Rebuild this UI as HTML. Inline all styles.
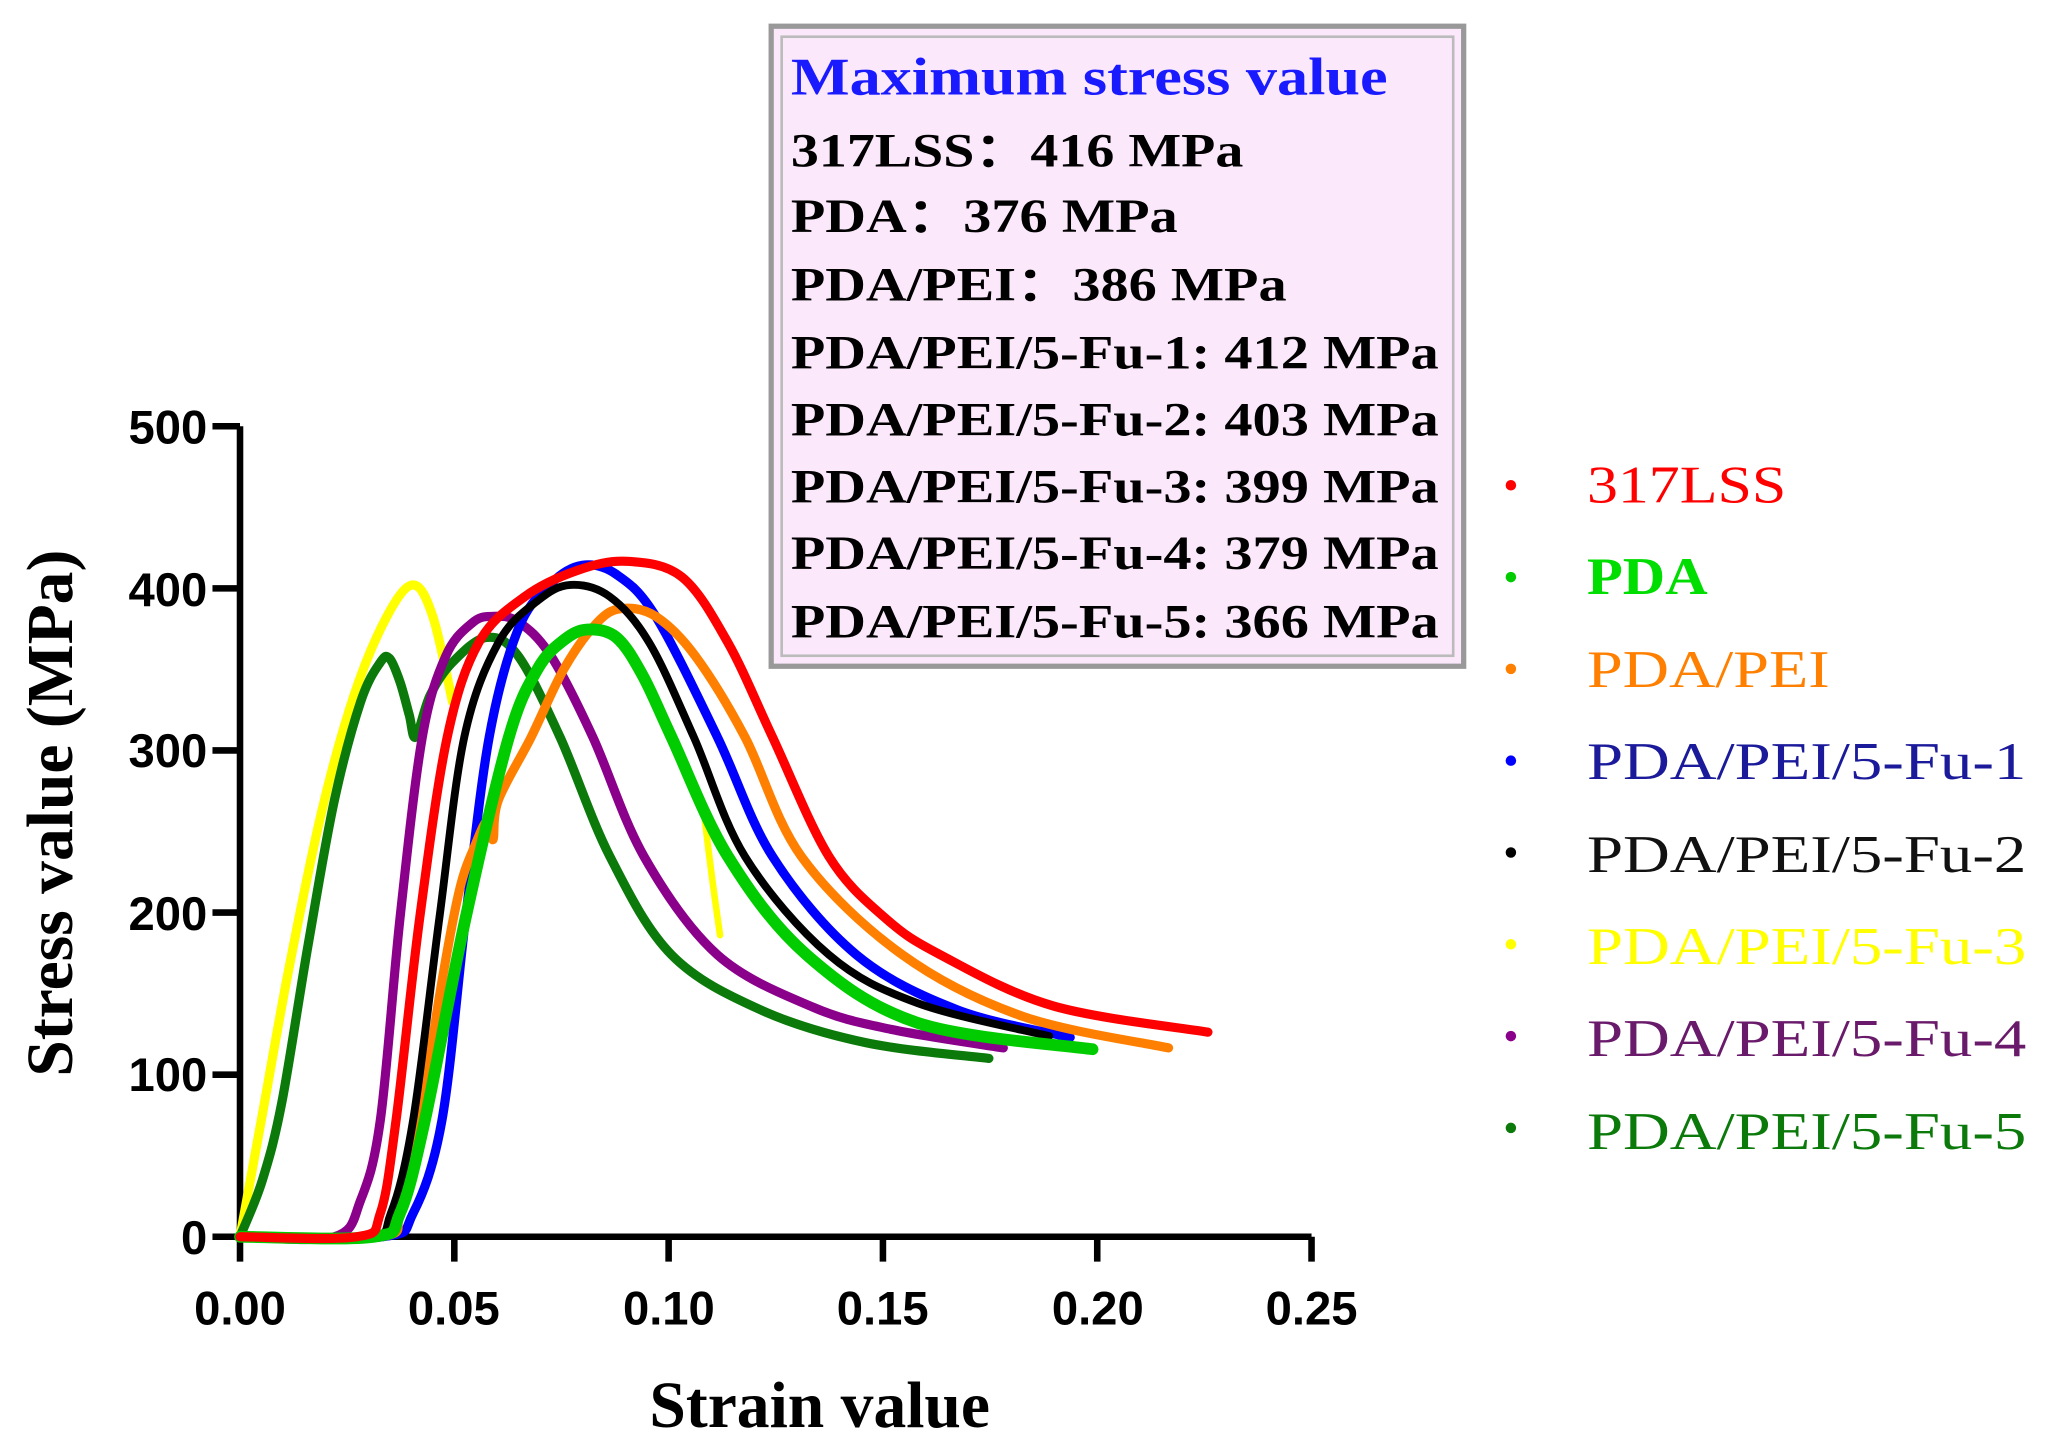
<!DOCTYPE html>
<html><head><meta charset="utf-8"><style>
html,body{margin:0;padding:0;background:#fff;}
svg{display:block;}
</style></head><body>
<svg id="s" width="2046" height="1439" viewBox="0 0 1560 1097.2" preserveAspectRatio="none" xmlns="http://www.w3.org/2000/svg">
<rect width="1560" height="1097.2" fill="#fff"/>
<rect x="588" y="20" width="528" height="488" fill="#fbe9fb" stroke="#999" stroke-width="4"/>
<rect x="596" y="28" width="512" height="472" fill="none" stroke="#bbb" stroke-width="2"/>
<g font-family="Liberation Serif, serif" font-weight="bold">
<text x="603" y="72" font-size="40" fill="#1a1aff" textLength="455" lengthAdjust="spacingAndGlyphs">Maximum stress value</text>
<g font-size="36" fill="#000">
<text x="603" y="127" textLength="345" lengthAdjust="spacingAndGlyphs">317LSS：416 MPa</text>
<text x="603" y="177" textLength="295" lengthAdjust="spacingAndGlyphs">PDA：376 MPa</text>
<text x="603" y="229" textLength="378" lengthAdjust="spacingAndGlyphs">PDA/PEI：386 MPa</text>
<text x="603" y="281" textLength="494" lengthAdjust="spacingAndGlyphs">PDA/PEI/5-Fu-1: 412 MPa</text>
<text x="603" y="332" textLength="494" lengthAdjust="spacingAndGlyphs">PDA/PEI/5-Fu-2: 403 MPa</text>
<text x="603" y="383" textLength="494" lengthAdjust="spacingAndGlyphs">PDA/PEI/5-Fu-3: 399 MPa</text>
<text x="603" y="434" textLength="494" lengthAdjust="spacingAndGlyphs">PDA/PEI/5-Fu-4: 379 MPa</text>
<text x="603" y="486" textLength="494" lengthAdjust="spacingAndGlyphs">PDA/PEI/5-Fu-5: 366 MPa</text>
</g></g>
<g stroke="#000" stroke-width="5" fill="none">
<path d="M183,325 V943 H1000"/>
<path d="M162,325 H183 M162,448.6 H183 M162,572.2 H183 M162,695.8 H183 M162,819.4 H183 M162,943 H183"/>
<path d="M183,943 V962 M346.4,943 V962 M509.8,943 V962 M673.2,943 V962 M836.6,943 V962 M1000,943 V962"/>
</g>
<g font-family="Liberation Sans, sans-serif" font-weight="bold" font-size="36" fill="#000" text-anchor="end">
<text x="158" y="338">500</text><text x="158" y="462">400</text><text x="158" y="585">300</text>
<text x="158" y="709">200</text><text x="158" y="832">100</text><text x="158" y="956">0</text>
</g>
<g font-family="Liberation Sans, sans-serif" font-weight="bold" font-size="36" fill="#000" text-anchor="middle">
<text x="183" y="1010">0.00</text><text x="346" y="1010">0.05</text><text x="510" y="1010">0.10</text>
<text x="673" y="1010">0.15</text><text x="837" y="1010">0.20</text><text x="1000" y="1010">0.25</text>
</g>
<text x="625" y="1088" font-family="Liberation Serif, serif" font-weight="bold" font-size="50" text-anchor="middle">Strain value</text>
<text transform="translate(55,620) rotate(-90)" font-family="Liberation Serif, serif" font-weight="bold" font-size="50" text-anchor="middle">Stress value (MPa)</text>
<g id="curves" fill="none" stroke-width="7" stroke-linejoin="round" stroke-linecap="round"></g>
<g font-family="Liberation Serif, serif" font-size="40">
<circle cx="1152" cy="370" r="4" fill="#ff0000"/><text x="1210" y="383" fill="#ff0000" textLength="152" lengthAdjust="spacingAndGlyphs">317LSS</text>
<circle cx="1152" cy="440" r="4" fill="#00cc00"/><text x="1210" y="453" fill="#00dd00" font-weight="bold" textLength="92" lengthAdjust="spacingAndGlyphs">PDA</text>
<circle cx="1152" cy="510" r="4" fill="#ff8000"/><text x="1210" y="524" fill="#ff8000" textLength="185" lengthAdjust="spacingAndGlyphs">PDA/PEI</text>
<circle cx="1152" cy="580" r="4" fill="#0000ff"/><text x="1210" y="594" fill="#1a1a9a" textLength="335" lengthAdjust="spacingAndGlyphs">PDA/PEI/5-Fu-1</text>
<circle cx="1152" cy="650" r="4" fill="#000"/><text x="1210" y="665" fill="#111" textLength="335" lengthAdjust="spacingAndGlyphs">PDA/PEI/5-Fu-2</text>
<circle cx="1152" cy="720" r="4" fill="#ffff00"/><text x="1210" y="735" fill="#ffff00" textLength="335" lengthAdjust="spacingAndGlyphs">PDA/PEI/5-Fu-3</text>
<circle cx="1152" cy="790" r="4" fill="#8b008b"/><text x="1210" y="805" fill="#6a1a6a" textLength="335" lengthAdjust="spacingAndGlyphs">PDA/PEI/5-Fu-4</text>
<circle cx="1152" cy="860" r="4" fill="#0b7a0b"/><text x="1210" y="876" fill="#0b7a0b" textLength="335" lengthAdjust="spacingAndGlyphs">PDA/PEI/5-Fu-5</text>
</g>
</svg>
<script>
var S=[
["#ffff00",7,[183,943,200,850,220,740,245,620,270,530,295,470,315,446,330,470,345,535]],
["#ffff00",5,[537,622,543,670,549,713]],
["#0b7a0b",7,[183,943,200,900,215,840,235,720,255,610,275,535,290,505,297,502,305,520,312,545,317,562,328,530,345,505,371,486,395,500,427,562,465,653,512,728,580,770,660,795,754,807]],
["#8b008b",7,[183,943,255,943,275,915,290,854,305,700,322,562,340,500,360,475,375,470,395,474,420,500,452,562,491,653,547,728,620,768,680,785,765,799]],
["#0000ff",7,[183,943,292,943,315,925,337,854,355,700,373,562,395,480,420,445,444,431,470,438,500,470,547,562,589,653,653,728,730,770,816,791]],
["#ff8000",7,[183,943,290,943,305,925,318,870,335,760,350,680,362,645,372,625,376,640,380,610,405,562,430,510,455,475,474,464,500,470,530,500,568,562,611,653,688,728,780,775,891,799]],
["#000000",6,[183,943,280,943,298,925,315,854,335,700,354,562,380,490,410,458,435,446,465,455,495,490,529,562,568,653,632,728,700,765,800,790]],
["#00cc00",9,[183,943,285,943,305,925,324,854,355,700,388,562,410,510,430,488,448,480,470,486,490,515,512,562,555,653,615,728,700,780,833,800]],
["#ff0000",7,[183,943,272,943,290,925,302,854,320,700,341,562,365,490,400,455,440,435,478,428,520,440,555,490,589,562,632,653,675,700,717,728,803,767,921,787]]
];
var g=document.getElementById('curves');
S.forEach(function(s){
 var a=s[2],p=[];for(var i=0;i<a.length;i+=2)p.push([a[i],a[i+1]]);
 var d='M'+p[0][0]+','+p[0][1];
 for(var i=0;i<p.length-1;i++){
  var p0=p[i-1]||p[i],p1=p[i],p2=p[i+1],p3=p[i+2]||p2;
  var c1=[p1[0]+(p2[0]-p0[0])/6,p1[1]+(p2[1]-p0[1])/6];
  var c2=[p2[0]-(p3[0]-p1[0])/6,p2[1]-(p3[1]-p1[1])/6];
  d+=' C'+c1[0].toFixed(1)+','+c1[1].toFixed(1)+' '+c2[0].toFixed(1)+','+c2[1].toFixed(1)+' '+p2[0]+','+p2[1];
 }
 var e=document.createElementNS('http://www.w3.org/2000/svg','path');
 e.setAttribute('d',d);e.setAttribute('stroke',s[0]);e.setAttribute('stroke-width',s[1]);
 g.appendChild(e);
});
</script>
</body></html>
